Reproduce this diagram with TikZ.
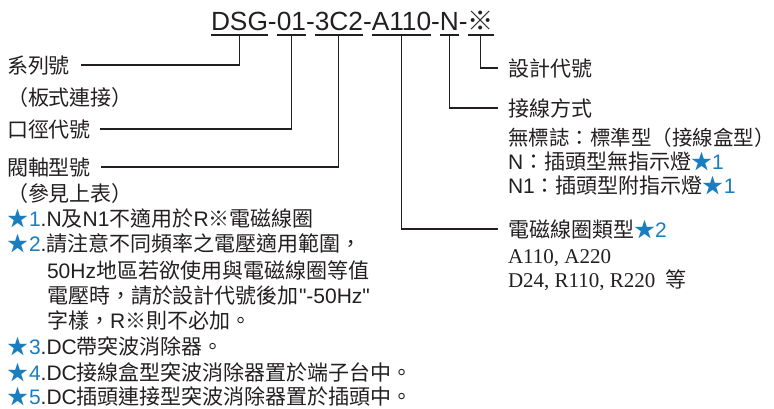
\documentclass[tikz,border=0pt]{standalone}
\usepackage{fontspec}
\setmainfont{Liberation Sans}
\newfontfamily\cjk{Noto Sans CJK TC}
\newfontfamily\serifl{Liberation Serif}
\newfontfamily\rawsans{Liberation Sans}[Ligatures=TeXOff]
\definecolor{ink}{HTML}{231F20}
\definecolor{sblue}{HTML}{1A7DBF}
\newcommand\C[1]{{\cjk #1}}
\newcommand\B[1]{\textcolor{sblue}{#1}}
\newcommand\st{\B{\C{★}}}
\tikzset{
  lab/.style={anchor=west, inner sep=0pt, outer sep=0pt, text height=16pt, text depth=0pt,
    font=\fontsize{21}{25}\selectfont, text=ink},
  code/.style={anchor=base west, inner sep=0pt, outer xsep=0pt, outer ysep=5pt,
    text depth=0pt, font=\fontsize{26.3}{30}\selectfont, text=ink},
  uline/.style={draw=ink, line width=2.4pt},
  conn/.style={draw=ink, line width=1.1pt},
}
\begin{document}
\begin{tikzpicture}[x=1pt, y=-1pt]
\useasboundingbox (0,0) rectangle (774,408);
% code string
\node[code] (dsg) at (211,30) {DSG};
\node[code] (d1) at (dsg.base east) {-};
\node[code] (c01) at (d1.base east) {01};
\node[code] (d2) at (c01.base east) {-};
\node[code] (c3c2) at (d2.base east) {3C2};
\node[code] (d3) at (c3c2.base east) {-};
\node[code] (ca) at (d3.base east) {A110};
\node[code] (d4) at (ca.base east) {-};
\node[code] (cn) at (d4.base east) {N};
\node[code] (d5) at (cn.base east) {-};
\node[code] (cx) at (d5.base east) {\C{※}};
\foreach \n in {dsg,c01,c3c2,ca,cn,cx}
  \draw[uline] (\n.south west) -- (\n.south east);
% left labels
\node[lab] (l1) at (7,65) {\C{系列號}};
\node[lab] (l1b) at (7,97) {\C{（板式連接）}};
\node[lab] (l2) at (7,129) {\C{口徑代號}};
\node[lab] (l3) at (7,167) {\C{閥軸型號}};
\node[lab] (l3b) at (7,193) {\C{（參見上表）}};
\node[lab] (n1) at (8,218) {\st\B{1}.N\C{及}N1\C{不適用於}R\C{※電磁線圈}};
\node[lab] (n2) at (8,243) {\st\B{2}.\C{請注意不同頻率之電壓適用範圍，}};
\node[lab] (n2a) at (47,270) {50Hz\C{地區若欲使用與電磁線圈等值}};
\node[lab] (n2b) at (47,295) {\C{電壓時，請於設計代號後加}{\rawsans "-50Hz"}};
\node[lab] (n2c) at (47,320) {\C{字樣，}R\C{※則不必加。}};
\node[lab] (n3) at (8,346) {\st\B{3}.DC\C{帶突波消除器。}};
\node[lab] (n4) at (8,372) {\st\B{4}.DC\C{接線盒型突波消除器置於端子台中。}};
\node[lab] (n5) at (8,396) {\st\B{5}.DC\C{插頭連接型突波消除器置於插頭中。}};
% right labels
\node[lab] (r1) at (508,68) {\C{設計代號}};
\node[lab] (r2) at (508,108) {\C{接線方式}};
\node[lab, font=\fontsize{20.5}{25}\selectfont] (r2a) at (508,137) {\C{無標誌：標準型（接線盒型）}};
\node[lab] (r2b) at (508,161) {N\C{：插頭型無指示燈}\st\B{1}};
\node[lab] (r2c) at (508,185) {N1\C{：插頭型附指示燈}\st\B{1}};
\node[lab] (r3) at (508,229) {\C{電磁線圈類型}\st\B{2}};
\node[lab] (r3a) at (508,255) {\serifl A110, A220};
\node[lab] (r3b) at (508,279) {\serifl D24, R110, R220~~\C{等}};
% connectors
\draw[conn] (dsg.south) |- ([xshift=11pt]l1.east);
\draw[conn] (c01.south) |- ([xshift=9pt]l2.east);
\draw[conn] (c3c2.south) |- ([xshift=10pt]l3.east);
\draw[conn] (ca.south) |- ([xshift=-10pt]r3.west);
\draw[conn] (cn.south) |- ([xshift=-10pt]r2.west);
\draw[conn] (cx.south) |- ([xshift=-10pt]r1.west);
\end{tikzpicture}
\end{document}
